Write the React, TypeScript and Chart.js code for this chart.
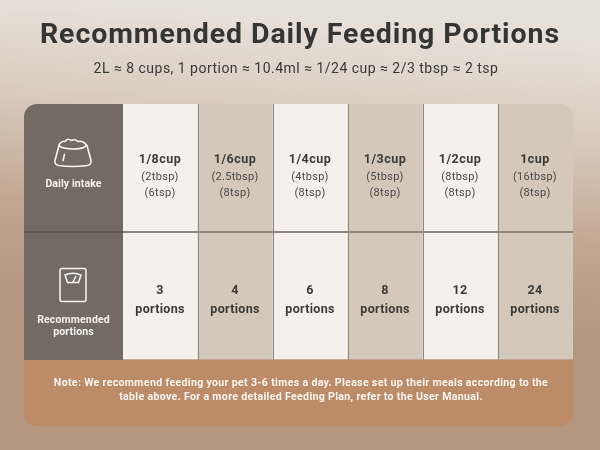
import React, { useEffect, useRef } from "react";
import { Chart, registerables } from "chart.js";

Chart.register(...registerables);

const TITLE = "Recommended Daily Feeding Portions";
const SUBTITLE = "2L ≈ 8 cups, 1 portion ≈ 10.4ml ≈ 1/24 cup ≈ 2/3 tbsp ≈ 2 tsp";
const cups = ["1/8cup", "1/6cup", "1/4cup", "1/3cup", "1/2cup", "1cup"];
const tbsp = ["(2tbsp)", "(2.5tbsp)", "(4tbsp)", "(5tbsp)", "(8tbsp)", "(16tbsp)"];
const tsp = ["(6tsp)", "(8tsp)", "(8tsp)", "(8tsp)", "(8tsp)", "(8tsp)"];
const portions = [3, 4, 6, 8, 12, 24];
const rowIntake = [1, 1, 1, 1, 1, 1];
const rowPortions = [1, 1, 1, 1, 1, 1];
const NOTE = [
  "Note: We recommend feeding your pet 3-6 times a day. Please set up their meals according to the",
  "table above. For a more detailed Feeding Plan, refer to the User Manual.",
];

const FONT = "Roboto, sans-serif";
const DARK = "#736a64";
const LIGHT = "#f4f1ec";
const ALT = "#d3c8ba";
const NOTE_BG = "#bc8c69";
const INK = "#3b3a38";
const LINE = "#8f877f";
const PANEL_LEFT = 24;
const NOTE_H = 66;
const R = 13;

function text(ctx: CanvasRenderingContext2D, s: string, x: number, y: number, font: string, color: string, spacing = 0) {
  ctx.font = font;
  ctx.fillStyle = color;
  (ctx as any).letterSpacing = spacing + "px";
  ctx.textAlign = "center";
  ctx.textBaseline = "middle";
  ctx.fillText(s, x, y);
  (ctx as any).letterSpacing = "0px";
}

const tablePlugin = {
  id: "feedingTable",
  beforeDraw(chart: any) {
    const { ctx, width, height, chartArea: a } = chart;
    const g = ctx.createLinearGradient(width * 0.06, 0, 0, height);
    g.addColorStop(0, "#e7e0d9");
    g.addColorStop(0.2, "#d9ccbf");
    g.addColorStop(0.45, "#c1a692");
    g.addColorStop(0.66, "#b49680");
    g.addColorStop(1, "#b4967f");
    ctx.fillStyle = g;
    ctx.fillRect(0, 0, width, height);

    // header column
    ctx.fillStyle = DARK;
    ctx.beginPath();
    ctx.roundRect(PANEL_LEFT, a.top, a.left - PANEL_LEFT, a.bottom - a.top, [R, 0, 0, 0]);
    ctx.fill();
    // note band
    ctx.fillStyle = NOTE_BG;
    ctx.beginPath();
    ctx.roundRect(PANEL_LEFT, a.bottom, a.right - PANEL_LEFT, NOTE_H, [0, 0, R, R]);
    ctx.fill();
  },
  afterDraw(chart: any) {
    const { ctx, width, chartArea: a, scales } = chart;
    const cx = width / 2;
    text(ctx, TITLE, cx, 36, "700 28.5px " + FONT, "#353534", 0.93);
    text(ctx, SUBTITLE, cx - 4, 69, "400 14px " + FONT, "#383837", 0.48);

    const topRow = (scales.y.getPixelForValue(2) + scales.y.getPixelForValue(1)) / 2;
    const lowRow = (scales.y.getPixelForValue(1) + scales.y.getPixelForValue(0)) / 2;
    cups.forEach((c, i) => {
      const x = scales.x.getPixelForValue(i) - 0.5;
      text(ctx, c, x, topRow - 8, "700 12.5px " + FONT, INK, 0.5);
      text(ctx, tbsp[i], x, topRow + 9, "400 11px " + FONT, "#4a4845", 0.3);
      text(ctx, tsp[i], x, topRow + 25, "400 11px " + FONT, "#4a4845", 0.3);
      text(ctx, String(portions[i]), x, lowRow - 5, "700 12.5px " + FONT, INK, 0.3);
      text(ctx, "portions", x, lowRow + 14, "700 12.5px " + FONT, INK, 0.3);
    });

    // header divider continues over the dark column
    const yMid = scales.y.getPixelForValue(1);
    ctx.strokeStyle = "#5f5751";
    ctx.lineWidth = 2;
    ctx.beginPath();
    ctx.moveTo(PANEL_LEFT, yMid);
    ctx.lineTo(a.left, yMid);
    ctx.stroke();

    const hx = (PANEL_LEFT + a.left) / 2;
    text(ctx, "Daily intake", hx, topRow + 16, "700 10.5px " + FONT, "#f6f2ee", 0.1);
    text(ctx, "Recommended", hx, lowRow + 24, "700 10.5px " + FONT, "#f6f2ee", 0.15);
    text(ctx, "portions", hx, lowRow + 36, "700 10.5px " + FONT, "#f6f2ee", 0.15);

    // bowl icon
    ctx.save();
    ctx.translate(hx - 0.5, topRow - 13.5);
    ctx.strokeStyle = "#f8f5f2";
    ctx.lineWidth = 1.6;
    ctx.lineJoin = "round";
    ctx.lineCap = "round";
    ctx.beginPath();
    ctx.moveTo(-14, -10);
    ctx.quadraticCurveTo(-11, -14, -8, -13);
    ctx.quadraticCurveTo(-5, -17, -2, -14);
    ctx.quadraticCurveTo(2, -16, 5, -13);
    ctx.quadraticCurveTo(10, -14, 13, -10);
    ctx.quadraticCurveTo(14, -6, 0, -5.5);
    ctx.quadraticCurveTo(-14, -6, -14, -10);
    ctx.moveTo(-14, -9);
    ctx.lineTo(-18, 6);
    ctx.quadraticCurveTo(-19, 10, -14, 11);
    ctx.quadraticCurveTo(0, 13, 14, 11);
    ctx.quadraticCurveTo(19, 10, 18, 6);
    ctx.lineTo(14, -9);
    ctx.moveTo(-10, 6);
    ctx.lineTo(-8.5, 0);
    ctx.stroke();
    ctx.restore();

    // scale icon
    ctx.save();
    ctx.translate(hx - 0.5, lowRow - 11);
    ctx.strokeStyle = "#f8f5f2";
    ctx.lineWidth = 1.5;
    ctx.lineJoin = "round";
    ctx.beginPath();
    ctx.roundRect(-13, -16.5, 26, 33, 2);
    ctx.moveTo(-8, -10);
    ctx.quadraticCurveTo(0, -13.5, 8, -10);
    ctx.lineTo(5.5, -2.5);
    ctx.lineTo(-5.5, -2.5);
    ctx.closePath();
    ctx.moveTo(0, -3);
    ctx.lineTo(3, -9);
    ctx.stroke();
    ctx.restore();

    text(ctx, NOTE[0], (PANEL_LEFT + a.right) / 2 + 2.5, a.bottom + 23.5, "700 10.6px " + FONT, "#faf5f0", 0.32);
    text(ctx, NOTE[1], (PANEL_LEFT + a.right) / 2 + 2.5, a.bottom + 37.5, "700 10.6px " + FONT, "#faf5f0", 0.32);
  },
};

export default function App() {
  const ref = useRef<HTMLCanvasElement | null>(null);

  useEffect(() => {
    document.body.style.margin = "0";
    const fill = (c: any) => (c.dataIndex % 2 === 0 ? LIGHT : ALT);
    const chart = new Chart(ref.current as HTMLCanvasElement, {
      type: "bar",
      data: {
        labels: cups,
        datasets: [
          {
            label: "Recommended portions",
            data: rowPortions,
            backgroundColor: fill,
            borderWidth: 0,
            barPercentage: 1,
            categoryPercentage: 1,
            stack: "t",
          },
          {
            label: "Daily intake",
            data: rowIntake,
            backgroundColor: fill,
            borderWidth: 0,
            barPercentage: 1,
            categoryPercentage: 1,
            stack: "t",
            borderSkipped: false,
            borderRadius: (c: any) =>
              c.dataIndex === cups.length - 1 ? { topRight: R, topLeft: 0, bottomLeft: 0, bottomRight: 0 } : 0,
          },
        ],
      },
      options: {
        responsive: false,
        animation: false,
        devicePixelRatio: 1,
        layout: { padding: { left: 123, right: 27, top: 104, bottom: 90 } },
        plugins: { legend: { display: false }, title: { display: false }, tooltip: { enabled: false } },
        scales: {
          x: {
            stacked: true,
            offset: true,
            border: { display: false },
            ticks: { display: false },
            grid: {
              z: 1,
              drawTicks: false,
              lineWidth: 1,
              color: (c: any) => (c.index > 0 ? LINE : "rgba(0,0,0,0)"),
            },
          },
          y: {
            stacked: true,
            min: 0,
            max: 2,
            border: { display: false },
            ticks: { display: false, stepSize: 1 },
            grid: {
              z: 1,
              drawTicks: false,
              lineWidth: 2,
              color: (c: any) => (c.tick && c.tick.value === 1 ? LINE : "rgba(0,0,0,0)"),
            },
          },
        },
      },
      plugins: [tablePlugin],
    } as any);
    return () => chart.destroy();
  }, []);

  return <canvas ref={ref} width={600} height={450} style={{ display: "block" }} />;
}
